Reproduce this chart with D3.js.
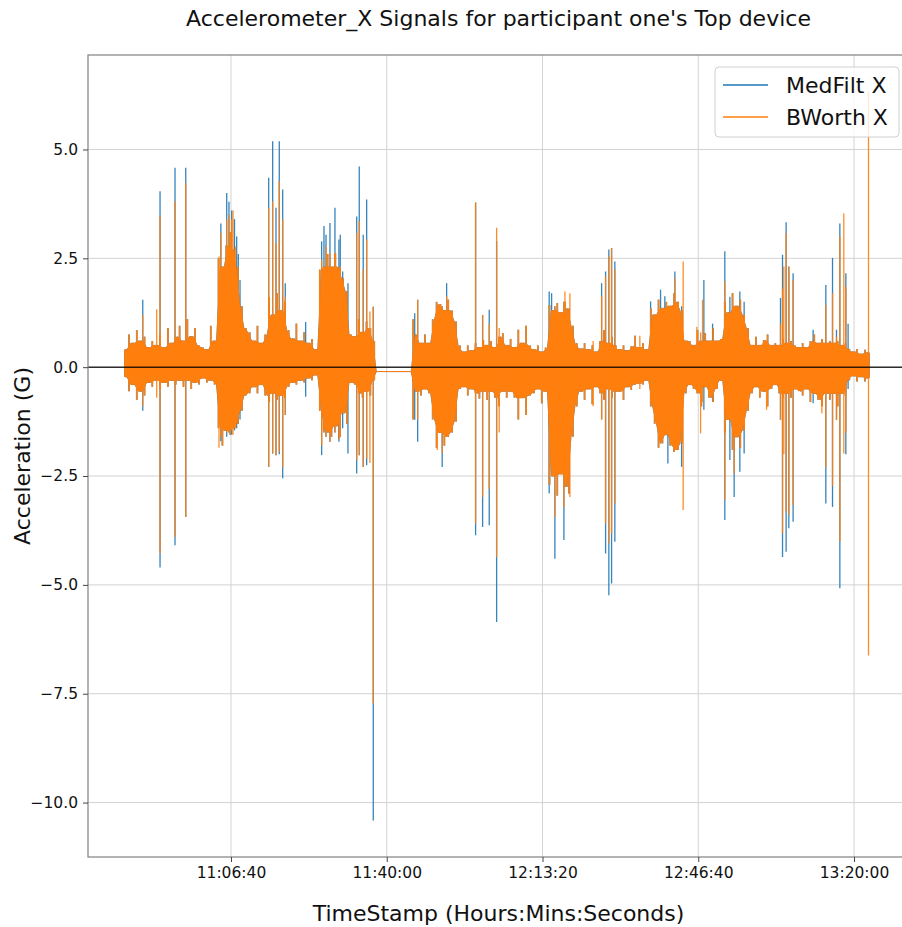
<!DOCTYPE html>
<html>
<head>
<meta charset="utf-8">
<script src="https://cdn.jsdelivr.net/npm/d3@7"></script>
<style>
  body { margin: 0; background: #fff; }
  svg { display: block; }
  text { font-family: "DejaVu Sans", sans-serif; }
</style>
</head>
<body>
<svg id="chart" width="902" height="927"></svg>
<script>
// Envelope of the filtered X-axis acceleration, one min/max pair per 50 s starting 10:44:00
const sampleStart = 38640;
const sampleStep = 50;

// upper envelope (G)
const envelopeHi = [
  0.4, 0.75, 0.55, 0.85, 0.6, 0.7, 0.45, 0.6, 0.5, 0.75,
  0.45, 0.9, 0.55, 0.7, 0.95, 0.6, 1.1, 0.7, 0.9, 0.5,
  0.45, 0.4, 0.95, 0.6, 2.5, 2.3, 2.8, 3.1, 2.7, 2.3,
  1.4, 0.9, 0.8, 0.6, 0.95, 0.55, 0.75, 1.6, 1.2, 1.7,
  1.3, 1.5, 0.85, 0.65, 1.0, 0.6, 0.8, 0.55, 0.65, 0.4,
  2.24, 2.31, 2.6, 2.3, 2.62, 2.3, 2.05, 1.75, 0.75, 0.7,
  1.1, 0.8, 1.05, 0.9, 0.6, -0.1, -0.1, -0.1, -0.1, -0.1,
  -0.1, -0.1, -0.1, -0.1, 1.1, 0.75, 0.55, 0.75, 0.55, 1.1,
  1.5, 1.45, 1.3, 1.55, 1.3, 1.05, 0.5, 0.35, 0.5, 0.38,
  0.55, 0.45, 0.62, 0.5, 0.6, 0.45, 0.7, 0.78, 0.5, 0.65,
  0.45, 0.86, 0.55, 0.95, 0.5, 0.4, 0.5, 0.35, 0.45, 1.43,
  1.3, 1.47, 1.25, 1.5, 1.35, 0.95, 0.55, 0.42, 0.55, 0.4,
  0.5, 0.35, 0.6, 0.85, 0.55, 0.7, 0.5, 0.4, 0.5, 0.38,
  0.48, 0.72, 0.45, 0.55, 0.4, 1.35, 1.2, 1.55, 1.35, 1.5,
  1.4, 1.7, 1.5, 1.3, 0.6, 0.6, 0.5, 0.85, 0.6, 0.78,
  0.6, 0.9, 0.6, 0.65, 1.5, 1.25, 1.7, 1.4, 1.55, 1.2,
  0.9, 0.5, 0.7, 0.5, 0.62, 0.75, 0.5, 0.55, 0.5, 0.65,
  0.55, 0.6, 0.5, 0.45, 0.55, 0.45, 0.6, 0.75, 0.55, 0.65,
  0.55, 0.6, 0.55, 0.6, 0.5, 0.55, 0.42, 0.35, 0.42, 0.3,
  0.4, 0.33
];
// lower envelope (G)
const envelopeLo = [
  -0.22, -0.55, -0.4, -0.75, -0.55, -0.65, -0.35, -0.45, -0.3, -0.5,
  -0.35, -0.45, -0.3, -0.4, -0.3, -0.45, -0.3, -0.5, -0.35, -0.4,
  -0.25, -0.35, -0.3, -0.4, -1.4, -1.8, -1.45, -1.55, -1.4, -1.3,
  -1.0, -0.65, -0.6, -0.45, -0.6, -0.4, -0.65, -0.8, -0.6, -0.75,
  -0.65, -0.7, -0.45, -0.35, -0.4, -0.3, -0.35, -0.25, -0.3, -0.18,
  -1.0, -1.45, -1.5, -1.6, -1.35, -1.65, -1.05, -1.3, -0.35, -0.4,
  -0.6, -0.7, -0.55, -0.65, -0.3, -0.1, -0.1, -0.1, -0.1, -0.1,
  -0.1, -0.1, -0.1, -0.1, -1.2, -0.55, -0.65, -0.5, -0.6, -1.2,
  -1.85, -1.5, -1.8, -1.6, -1.5, -1.25, -0.5, -0.45, -0.65, -0.5,
  -0.6, -0.72, -0.55, -0.75, -0.55, -0.7, -0.9, -0.55, -0.7, -0.55,
  -0.7, -1.2, -0.7, -1.1, -0.65, -0.6, -0.5, -0.83, -0.55, -2.7,
  -2.5, -2.95, -2.45, -2.75, -2.9, -1.6, -0.9, -0.55, -0.75, -0.5,
  -0.85, -0.45, -0.6, -0.75, -0.5, -0.7, -0.55, -0.55, -0.75, -0.45,
  -0.52, -0.4, -0.37, -0.4, -0.3, -0.9, -1.3, -1.85, -1.75, -1.55,
  -1.8, -1.95, -1.9, -1.75, -0.6, -0.4, -0.5, -0.6, -0.9, -0.45,
  -0.7, -0.8, -0.5, -0.3, -1.5, -1.2, -1.9, -1.6, -1.85, -1.45,
  -1.0, -0.6, -0.45, -0.7, -0.55, -0.9, -0.5, -0.4, -0.6, -0.7,
  -0.6, -0.7, -0.5, -0.55, -0.65, -0.5, -0.8, -0.6, -0.75, -0.9,
  -0.6, -0.75, -0.6, -0.9, -0.6, -0.65, -0.3, -0.2, -0.33, -0.22,
  -0.33, -0.25
];

// isolated strokes of the Butterworth output: [time (s), top (G), bottom (G)]
const bworthSpikes = [
  [38867, 1.2, -0.9], [39046, 1.33, -0.7], [39089, 3.47, -4.27], [39281, 3.81, -3.9],
  [39419, 4.23, -3.44], [39846, 2.54, -1.85], [39870, 3.08, -1.6], [39945, 3.39, -1.5],
  [39974, 3.5, -1.5], [40009, 3.39, -1.45], [40026, 3.6, -1.55], [40060, 2.77, -1.4],
  [40484, 3.66, -2.29], [40535, 3.81, -1.98], [40578, 2.85, -2.02], [40620, 4.27, -1.94],
  [40664, 3.39, -2.29], [40697, 1.62, -1.1], [41164, 2.47, -1.8], [41194, 2.3, -1.5],
  [41220, 2.77, -1.6], [41271, 2.62, -1.71], [41335, 2.62, -1.5], [41403, 2.31, -1.6],
  [41614, 3.08, -2.13], [41647, 3.35, -2.02], [41698, 2.24, -2.29], [41742, 2.93, -2.1],
  [41784, 1.28, -2.2], [41827, 1.39, -7.72], [42397, 1.55, -1.2], [42648, 1.3, -1.9],
  [42712, 1.4, -1.97], [42769, 1.63, -1.5], [43141, 3.78, -3.59], [43231, 1.2, -2.98],
  [43316, 1.0, -2.8], [43411, 3.2, -4.36], [43444, 0.9, -1.5], [44159, 1.4, -3.44],
  [44275, 1.5, -3.21], [44288, 1.74, -2.5], [44352, 1.7, -2.98], [44651, 0.6, -0.9],
  [44759, 1.63, -1.2], [44810, 2.09, -3.59], [44852, 2.54, -4.05], [44887, 2.74, -3.82],
  [44929, 2.24, -3.13], [45250, 0.72, -0.5], [45700, 2.04, -1.9], [45806, 2.43, -3.28],
  [45982, 0.93, -0.6], [46030, 0.8, -1.52], [46055, 1.55, -0.8], [46341, 1.97, -3.05],
  [46461, 1.4, -2.44], [46877, 0.5, -0.98], [47056, 1.0, -1.21], [47082, 1.8, -3.82],
  [47099, 2.31, -2.0], [47128, 3.08, -3.32], [47163, 2.31, -3.4], [47218, 2.0, -3.17],
  [47587, 0.6, -1.06], [47638, 1.43, -2.29], [47724, 1.7, -2.73], [47775, 0.7, -1.21],
  [47818, 3.0, -4.01], [47869, 3.53, -1.98], [47895, 1.85, -1.5], [48186, 6.33, -6.62]
];

// isolated strokes of the median-filter output: [time (s), top (G), bottom (G)]
const medfiltSpikes = [
  [38867, 1.55, -1.0], [39089, 4.04, -4.6], [39281, 4.58, -4.09], [39419, 4.58, -3.44],
  [39870, 3.3, -1.7], [39945, 4.0, -1.6], [39974, 3.8, -1.5], [40009, 3.6, -1.55],
  [40045, 3.4, -1.45], [40073, 3.0, -1.4], [40094, 2.6, -1.3], [40116, 2.0, -1.2],
  [40484, 4.35, -2.29], [40535, 5.19, -1.98], [40578, 3.66, -2.02], [40620, 5.19, -2.0],
  [40664, 4.08, -2.55], [40697, 1.93, -1.1], [40959, 1.04, -0.68], [41164, 2.89, -2.02],
  [41194, 3.24, -1.5], [41220, 3.04, -1.6], [41271, 3.31, -1.71], [41335, 3.66, -1.5],
  [41386, 2.93, -1.71], [41403, 3.04, -1.6], [41434, 2.2, -1.4], [41502, 1.93, -1.98],
  [41614, 3.46, -2.44], [41647, 4.61, -2.02], [41698, 3.04, -2.29], [41742, 3.85, -2.25],
  [41827, 1.39, -10.41], [42359, 1.24, -1.21], [42397, 1.55, -1.71], [42712, 1.4, -2.29],
  [42769, 1.93, -1.5], [43141, 3.78, -3.86], [43231, 1.2, -3.67], [43316, 1.32, -3.63],
  [43411, 2.9, -5.85], [44086, 1.74, -2.9], [44117, 1.7, -2.4], [44159, 1.4, -4.4],
  [44275, 1.5, -3.97], [44759, 1.93, -1.2], [44810, 2.2, -4.28], [44852, 2.7, -5.24],
  [44887, 2.74, -4.97], [44929, 2.43, -4.01], [45388, 1.51, -0.9], [45516, 1.78, -1.6],
  [45571, 1.63, -1.5], [45610, 1.4, -2.21], [45700, 2.2, -1.9], [45786, 1.4, -2.29],
  [46072, 2.0, -0.98], [46184, 1.0, -0.8], [46341, 2.66, -3.51], [46406, 1.62, -2.13],
  [46461, 1.4, -2.98], [46534, 1.74, -2.4], [46589, 1.5, -1.98], [47056, 1.59, -1.21],
  [47082, 2.58, -4.36], [47128, 3.33, -4.24], [47163, 2.31, -3.7], [47218, 2.16, -3.55],
  [47475, 0.86, -0.83], [47638, 1.89, -3.13], [47724, 2.51, -3.21], [47775, 0.86, -1.21],
  [47818, 3.3, -5.08], [47895, 2.16, -2.0], [47924, 1.0, -0.5]
];

const xTicks = [40000, 42000, 44000, 46000, 48000];   // seconds since midnight
const yTicks = [5, 2.5, 0, -2.5, -5, -7.5, -10];
const seriesNames = ["MedFilt X", "BWorth X"];
const seriesColors = ["#1f77b4", "#ff7f0e"];

const titleText = "Accelerometer_X Signals for participant one's Top device";
const xLabelText = "TimeStamp (Hours:Mins:Seconds)";
const yLabelText = "Acceleration (G)";

// ---- layout ----
const svg = d3.select("#chart");
const plot = { left: 88, top: 55, right: 909, bottom: 857 };

const x = d3.scaleLinear().domain([38164, 48706]).range([plot.left, plot.right]);
const y = d3.scaleLinear().domain([-11.25, 7.17]).range([plot.bottom, plot.top]);

svg.append("defs").append("clipPath").attr("id", "plotClip")
  .append("rect")
  .attr("x", plot.left).attr("y", plot.top)
  .attr("width", plot.right - plot.left).attr("height", plot.bottom - plot.top);

// grid
const grid = svg.append("g");
grid.selectAll("line.gx").data(xTicks).join("line")
  .attr("x1", d => x(d)).attr("x2", d => x(d))
  .attr("y1", plot.top).attr("y2", plot.bottom)
  .attr("stroke", "#d3d3d3").attr("stroke-width", 1);
grid.selectAll("line.gy").data(yTicks).join("line")
  .attr("x1", plot.left).attr("x2", plot.right)
  .attr("y1", d => y(d)).attr("y2", d => y(d))
  .attr("stroke", "#d3d3d3").attr("stroke-width", 1);

// per-window extremes of the signal
const samples = envelopeHi.map((hi, i) => ({
  t: sampleStart + i * sampleStep,
  hi: hi,
  lo: envelopeLo[i]
}));
// dense core between neighbouring windows: the common part of two adjacent min/max ranges
const core = [samples[0]].concat(
  samples.slice(1).map((s, i) => ({
    t: s.t - sampleStep / 2,
    hi: Math.min(s.hi, samples[i].hi),
    lo: Math.max(s.lo, samples[i].lo)
  })),
  [samples[samples.length - 1]]
);

const area = d3.area()
  .x(d => x(d.t))
  .y0(d => y(d.lo))
  .y1(d => y(d.hi));

const data = svg.append("g").attr("clip-path", "url(#plotClip)");

function drawSeries(color, spikes) {
  const g = data.append("g");
  g.append("path")
    .datum(core)
    .attr("d", area)
    .attr("fill", color)
    .attr("stroke", color)
    .attr("stroke-width", 0.8);
  // each window's full swing
  g.append("g").selectAll("line").data(samples).join("line")
    .attr("x1", d => x(d.t)).attr("x2", d => x(d.t))
    .attr("y1", d => y(d.hi)).attr("y2", d => y(d.lo))
    .attr("stroke", color)
    .attr("stroke-width", 1.6);
  // isolated excursions
  g.append("g").selectAll("line").data(spikes).join("line")
    .attr("x1", d => x(d[0])).attr("x2", d => x(d[0]))
    .attr("y1", d => y(d[1])).attr("y2", d => y(d[2]))
    .attr("stroke", color)
    .attr("stroke-width", 1.3)
    .attr("stroke-opacity", 0.9);
}

drawSeries(seriesColors[0], medfiltSpikes);
drawSeries(seriesColors[1], bworthSpikes);

// zero reference line
svg.append("line")
  .attr("x1", plot.left).attr("x2", plot.right)
  .attr("y1", y(0)).attr("y2", y(0))
  .attr("stroke", "#000").attr("stroke-opacity", 0.8).attr("stroke-width", 1.5);

// frame
svg.append("rect")
  .attr("x", plot.left).attr("y", plot.top)
  .attr("width", plot.right - plot.left).attr("height", plot.bottom - plot.top)
  .attr("fill", "none").attr("stroke", "#808080").attr("stroke-width", 1.2);

// axes
const fmtTime = s => {
  const h = Math.floor(s / 3600), m = Math.floor((s % 3600) / 60), sec = s % 60;
  return `${h}:${String(m).padStart(2, "0")}:${String(sec).padStart(2, "0")}`;
};
const fmtVal = v => (v < 0 ? "\u2212" : "") + Math.abs(v).toFixed(1);

const xAxis = svg.append("g")
  .attr("transform", `translate(0,${plot.bottom})`)
  .call(d3.axisBottom(x).tickValues(xTicks).tickFormat(fmtTime).tickSize(5).tickPadding(5));
const yAxis = svg.append("g")
  .attr("transform", `translate(${plot.left},0)`)
  .call(d3.axisLeft(y).tickValues(yTicks).tickFormat(fmtVal).tickSize(5).tickPadding(5));

[xAxis, yAxis].forEach(g => {
  g.select(".domain").remove();
  g.selectAll(".tick line").attr("stroke", "#444").attr("stroke-width", 1);
  g.selectAll(".tick text")
    .attr("font-family", "DejaVu Sans, sans-serif")
    .attr("font-size", 15.5)
    .attr("fill", "#111");
});

// title and axis labels
svg.append("text")
  .attr("x", (plot.left + plot.right) / 2).attr("y", 26)
  .attr("text-anchor", "middle").attr("font-size", 22).attr("fill", "#111")
  .text(titleText);

svg.append("text")
  .attr("x", (plot.left + plot.right) / 2).attr("y", 921)
  .attr("text-anchor", "middle").attr("font-size", 22).attr("fill", "#111")
  .text(xLabelText);

svg.append("text")
  .attr("transform", `translate(30,${(plot.top + plot.bottom) / 2}) rotate(-90)`)
  .attr("text-anchor", "middle").attr("font-size", 22).attr("fill", "#111")
  .text(yLabelText);

// legend
const legend = svg.append("g").attr("transform", "translate(715,67)");
legend.append("rect")
  .attr("width", 184).attr("height", 70).attr("rx", 4)
  .attr("fill", "#fff").attr("fill-opacity", 0.8)
  .attr("stroke", "#d0d0d0").attr("stroke-width", 1);
seriesNames.forEach((name, i) => {
  const row = legend.append("g").attr("transform", `translate(0,${18 + i * 32})`);
  row.append("line")
    .attr("x1", 8).attr("x2", 53).attr("y1", 0).attr("y2", 0)
    .attr("stroke", seriesColors[i]).attr("stroke-width", 1.5);
  row.append("text")
    .attr("x", 71).attr("y", 8)
    .attr("font-size", 22).attr("fill", "#111")
    .text(name);
});
</script>
</body>
</html>
